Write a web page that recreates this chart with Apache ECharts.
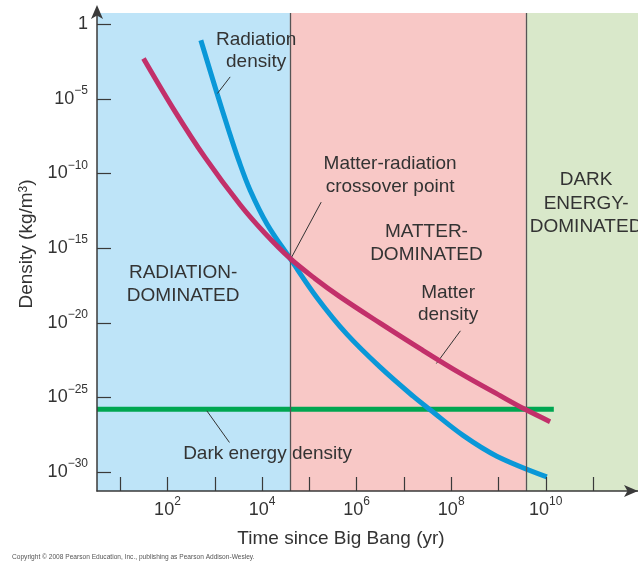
<!DOCTYPE html>
<html>
<head>
<meta charset="utf-8">
<script src="https://cdn.jsdelivr.net/npm/echarts@6/dist/echarts.min.js"></script>
<style>html,body{margin:0;padding:0;background:#fff}#c{width:638px;height:565px}</style>
</head>
<body>
<div id="c"></div>
<script>
// ---- data (log10 exponents) ----
const radiationLogTime    = [2.706, 3.047, 3.294, 3.505, 3.748, 4.108, 4.593, 5.154, 5.793, 6.497, 7.201, 7.554, 8.258, 8.964, 10.021];
const radiationLogDensity = [-1.072, -4.622, -7.100, -9.109, -11.118, -13.396, -15.693, -18.285, -20.763, -22.974, -24.936, -25.827, -27.562, -28.935, -30.322];
const matterLogTime       = [1.493, 2.142, 2.797, 3.537, 4.066, 4.593, 5.123, 5.651, 6.497, 7.343, 8.188, 9.034, 9.562, 10.091];
const matterLogDensity    = [-2.297, -5.753, -8.942, -12.096, -14.025, -15.693, -17.046, -18.265, -20.027, -21.735, -23.376, -24.883, -25.800, -26.624];
const darkEnergyLogTime   = [0.51, 10.17];
const darkEnergyLogDensity= [-25.8, -25.8];
const eraBoundaries       = [4.59, 9.58];   // radiation->matter, matter->dark energy (log10 yr)
const xTickExponents      = [1, 2, 3, 4, 5, 6, 7, 8, 9, 10, 11];
const xLabelExponents     = [2, 4, 6, 8, 10];
const yLabelExponents     = [0, -5, -10, -15, -20, -25, -30];

const X_MIN = 0.51, X_MAX = 11.95, Y_MIN = -31.27, Y_MAX = 0.75;
const FONT = '"Liberation Sans", Arial, Helvetica, sans-serif';
const TXT = '#333333';

const zip = (a, b) => a.map((v, i) => [v, b[i]]);

const rich = {
  b: { fontSize: 18, lineHeight: 28, color: TXT, fontFamily: FONT },
  s: { fontSize: 12, lineHeight: 12, verticalAlign: 'top', color: TXT, fontFamily: FONT }
};

function note(coord, text, lh) {
  return {
    coord: coord, value: 0,
    label: { show: true, position: 'inside', formatter: text, color: TXT, fontSize: 19,
             lineHeight: lh || 23, fontFamily: FONT, align: 'center' }
  };
}
function leader(a, b) { return [{ coord: a }, { coord: b }]; }

const option = {
  animation: false,
  backgroundColor: '#ffffff',
  grid: { left: 97, right: 0, top: 13, bottom: 74, containLabel: false },
  xAxis: {
    type: 'value', min: X_MIN, max: X_MAX, z: 10,
    name: 'Time since Big Bang (yr)', nameLocation: 'middle', nameGap: 38,
    nameTextStyle: { fontSize: 19, color: TXT, fontFamily: FONT, padding: [0, 53, 0, 0] },
    axisLine: { show: true, onZero: false, symbol: ['none', 'arrow'], symbolSize: [9, 14], symbolOffset: [0, 0],
                lineStyle: { color: '#3a3a3a', width: 1.5 } },
    axisTick: { show: true, inside: true, length: 14, customValues: xTickExponents,
                lineStyle: { color: '#3a3a3a', width: 1.2 } },
    axisLabel: { show: true, margin: 5, customValues: xLabelExponents,
                 formatter: v => '{b|10}{s|' + Math.round(v) + '}', rich: rich },
    splitLine: { show: false }
  },
  yAxis: {
    type: 'value', min: Y_MIN, max: Y_MAX, z: 10,
    name: 'Density (kg/m{s|3})', nameLocation: 'middle', nameGap: 60, nameRotate: 90,
    nameTextStyle: { fontSize: 19, color: TXT, fontFamily: FONT, padding: [0, 0, 0, 16],
                     rich: { s: { fontSize: 12, lineHeight: 12, verticalAlign: 'top', color: TXT, fontFamily: FONT } } },
    axisLine: { show: true, onZero: false, symbol: ['none', 'arrow'], symbolSize: [9, 14], symbolOffset: [0, 8],
                lineStyle: { color: '#3a3a3a', width: 1.5 } },
    axisTick: { show: true, inside: true, length: 14, customValues: yLabelExponents,
                lineStyle: { color: '#3a3a3a', width: 1.2 } },
    axisLabel: { show: true, margin: 9, customValues: yLabelExponents,
                 formatter: v => (Math.round(v) === 0 ? '{b|1}' : '{b|10}{s|\u2212' + Math.round(-v) + '}'), rich: rich },
    splitLine: { show: false }
  },
  graphic: [{
    type: 'text', left: 12, top: 554,
    style: { text: 'Copyright \u00a9 2008 Pearson Education, Inc., publishing as Pearson Addison-Wesley.',
             fontSize: 6.6, fill: '#555', fontFamily: FONT }
  }],
  series: [
    {
      name: 'eras', type: 'line', data: [], z: 1, silent: true,
      markArea: {
        silent: true,
        data: [
          [{ xAxis: X_MIN, itemStyle: { color: '#bee4f8' } }, { xAxis: eraBoundaries[0] }],
          [{ xAxis: eraBoundaries[0], itemStyle: { color: '#f8c8c6' } }, { xAxis: eraBoundaries[1] }],
          [{ xAxis: eraBoundaries[1], itemStyle: { color: '#d9e8ca' } }, { xAxis: X_MAX }]
        ]
      },
      markLine: {
        silent: true, symbol: ['none', 'none'], label: { show: false },
        lineStyle: { color: '#555555', width: 1.3, type: 'solid' },
        data: eraBoundaries.map(v => ({ xAxis: v }))
      }
    },
    {
      name: 'Dark energy density', type: 'line', z: 3, showSymbol: false,
      data: zip(darkEnergyLogTime, darkEnergyLogDensity),
      lineStyle: { color: '#00a651', width: 5 }
    },
    {
      name: 'Radiation density', type: 'line', z: 4, showSymbol: false, smooth: 0.35,
      data: zip(radiationLogTime, radiationLogDensity),
      lineStyle: { color: '#0a98d8', width: 5 }
    },
    {
      name: 'Matter density', type: 'line', z: 5, showSymbol: false, smooth: 0.35,
      data: zip(matterLogTime, matterLogDensity),
      lineStyle: { color: '#c2306a', width: 5 }
    },
    {
      name: 'notes', type: 'line', data: [], z: 6, silent: true,
      markLine: {
        silent: true, symbol: ['none', 'none'], label: { show: false },
        lineStyle: { color: '#333333', width: 1, type: 'solid' },
        data: [
          leader([3.057, -4.64], [3.326, -3.53]),
          leader([4.615, -15.67], [5.251, -11.92]),
          leader([8.195, -20.54], [7.687, -22.73]),
          leader([2.833, -25.90], [3.311, -28.02])
        ]
      },
      markPoint: {
        silent: true, symbol: 'circle', symbolSize: 0,
        data: [
          note([3.875, -1.80], 'Radiation\ndensity', 21.7),
          note([6.708, -10.11], 'Matter-radiation\ncrossover point', 23.4),
          note([7.476, -14.69], 'MATTER-\nDOMINATED', 23.3),
          note([10.852, -12.01], 'DARK\nENERGY-\nDOMINATED', 23.3),
          note([2.332, -17.45], 'RADIATION-\nDOMINATED', 23),
          note([7.934, -18.75], 'Matter\ndensity', 22.3),
          note([4.118, -28.75], 'Dark energy density', 22)
        ]
      }
    }
  ]
};

const chart = echarts.init(document.getElementById('c'), null, { renderer: 'canvas' });
chart.setOption(option);
</script>
</body>
</html>
